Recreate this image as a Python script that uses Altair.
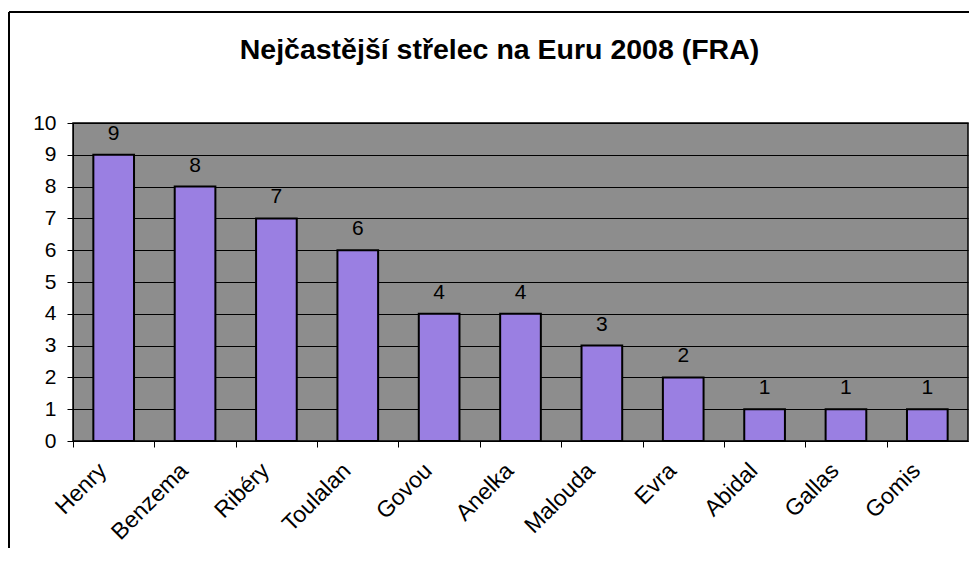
import altair as alt
import pandas as pd

players = ["Henry", "Benzema", "Ribéry", "Toulalan", "Govou", "Anelka",
           "Malouda", "Evra", "Abidal", "Gallas", "Gomis"]
goals = [9, 8, 7, 6, 4, 4, 3, 2, 1, 1, 1]
y_ticks = list(range(0, 11))
title_text = "Nejčastější střelec na Euru 2008 (FRA)"

df = pd.DataFrame({"player": players, "goals": goals})

W = 895
H = 318
step = W / 11.0
FONT = "Liberation Sans"

x_enc = alt.X(
    "player:N", sort=players,
    scale=alt.Scale(paddingInner=0.5, paddingOuter=0.25),
    axis=alt.Axis(title=None, labelAngle=-45, labelFontSize=23, labelFont=FONT,
                  labelColor="black", domainColor="black", tickColor="black",
                  tickSize=6, tickOffset=-step / 2, labelOffset=step / 2 - 19,
                  labelPadding=12, grid=False, labelOverlap=False),
)
y_enc = alt.Y(
    "goals:Q",
    scale=alt.Scale(domain=[0, 10], nice=False),
    axis=alt.Axis(title=None, values=y_ticks, labelFontSize=21, labelFont=FONT,
                  labelColor="black", domainColor="black", tickColor="black",
                  tickSize=6, labelPadding=11, grid=True, gridColor="black",
                  gridWidth=1, gridOpacity=1, labelOverlap=False),
)

base = alt.Chart(df)
bars = base.mark_bar(color="#9a7fe2", stroke="black", strokeWidth=2).encode(x=x_enc, y=y_enc)
labels = base.mark_text(fontSize=21, font=FONT, baseline="bottom", dy=-11, color="black").encode(
    x=x_enc, y=y_enc, text="goals:Q")

frame_df = pd.DataFrame({"t": [title_text]})
left_line = alt.Chart(frame_df).mark_rule(color="black", strokeWidth=2).encode(
    x=alt.value(-64), y=alt.value(-111), y2=alt.value(425))
top_line = alt.Chart(frame_df).mark_rule(color="black", strokeWidth=2).encode(
    x=alt.value(-64), x2=alt.value(W + 1), y=alt.value(-111))
title = alt.Chart(frame_df).mark_text(fontSize=28.5, fontWeight="bold", font=FONT,
                                      color="black", baseline="middle", align="center").encode(
    x=alt.value(W / 2 - 21), y=alt.value(-73), text="t:N")

chart = alt.layer(bars, labels, left_line, top_line, title).properties(
    width=W, height=H,
    padding={"left": 0, "top": 3, "right": 0, "bottom": 0},
    background="white",
).configure_view(fill="#8d8d8d", stroke="black", strokeWidth=1.5)

chart.save("out.html", embed_options={"renderer": "svg", "actions": False})
